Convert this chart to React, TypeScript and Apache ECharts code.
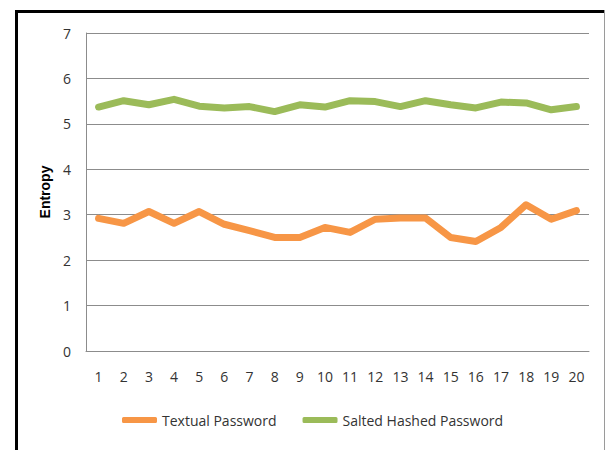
import React, { useEffect, useRef } from "react";
import * as echarts from "echarts";

const categories = ["1","2","3","4","5","6","7","8","9","10","11","12","13","14","15","16","17","18","19","20"];
const textualPassword = [2.92, 2.81, 3.07, 2.81, 3.07, 2.79, 2.65, 2.5, 2.5, 2.72, 2.61, 2.9, 2.93, 2.93, 2.5, 2.41, 2.72, 3.22, 2.9, 3.09];
const saltedHashedPassword = [5.37, 5.51, 5.42, 5.54, 5.39, 5.35, 5.38, 5.27, 5.42, 5.37, 5.51, 5.49, 5.38, 5.51, 5.42, 5.35, 5.48, 5.46, 5.31, 5.38];
const seriesNames = ["Textual Password", "Salted Hashed Password"];
const yAxisName = "Entropy";

const FONT = "'Open Sans', 'Liberation Sans', sans-serif";

export default function App() {
  const ref = useRef<HTMLDivElement>(null);
  useEffect(() => {
    document.body.style.margin = "0";
    const chart = echarts.init(ref.current!, null, { renderer: "svg" });
    chart.setOption({
      animation: false,
      backgroundColor: "#ffffff",
      textStyle: { fontFamily: FONT },
      grid: { left: 86, top: 33, right: 17, bottom: 99, containLabel: false },
      legend: {
        data: seriesNames,
        left: 122,
        top: 413,
        padding: 0,
        itemWidth: 35,
        itemHeight: 6,
        itemGap: 26,
        icon: "roundRect",
        textStyle: { fontSize: 14, color: "#333333", fontFamily: FONT },
      },
      xAxis: {
        type: "category",
        data: categories,
        boundaryGap: true,
        axisLine: { show: true, lineStyle: { color: "#8c8c8c", width: 1 } },
        axisTick: { show: false },
        axisLabel: { color: "#333333", fontSize: 14, margin: 18, fontFamily: FONT },
        splitLine: { show: false },
      },
      yAxis: {
        type: "value",
        min: 0,
        max: 7,
        interval: 1,
        name: yAxisName,
        nameLocation: "middle",
        nameGap: 23,
        nameRotate: 90,
        nameTextStyle: { fontSize: 14, fontWeight: "bold", color: "#000", fontFamily: "'Liberation Sans', Arial, sans-serif" },
        axisLine: { show: true, lineStyle: { color: "#8c8c8c", width: 1 } },
        axisTick: { show: false },
        axisLabel: { color: "#333333", fontSize: 14, margin: 15, fontFamily: FONT },
        splitLine: { show: true, lineStyle: { color: "#8c8c8c", width: 1 } },
      },
      series: [
        {
          name: seriesNames[0],
          type: "line",
          data: textualPassword,
          symbol: "none",
          itemStyle: { color: "#F79646" },
          lineStyle: { color: "#F79646", width: 7, cap: "round", join: "round" },
        },
        {
          name: seriesNames[1],
          type: "line",
          data: saltedHashedPassword,
          symbol: "none",
          itemStyle: { color: "#9BBB59" },
          lineStyle: { color: "#9BBB59", width: 7, cap: "round", join: "round" },
        },
      ],
      graphic: [
        { type: "line", shape: { x1: 16.5, y1: 10, x2: 16.5, y2: 450 }, style: { stroke: "#000", lineWidth: 3 } },
        { type: "line", shape: { x1: 15, y1: 11.5, x2: 605, y2: 11.5 }, style: { stroke: "#000", lineWidth: 3 } },
        { type: "line", shape: { x1: 604.5, y1: 10, x2: 604.5, y2: 450 }, style: { stroke: "#9a9a9a", lineWidth: 1 } },
      ],
    });
    return () => chart.dispose();
  }, []);
  return <div ref={ref} style={{ position: "absolute", left: 0, top: 0, width: 606, height: 450 }} />;
}
